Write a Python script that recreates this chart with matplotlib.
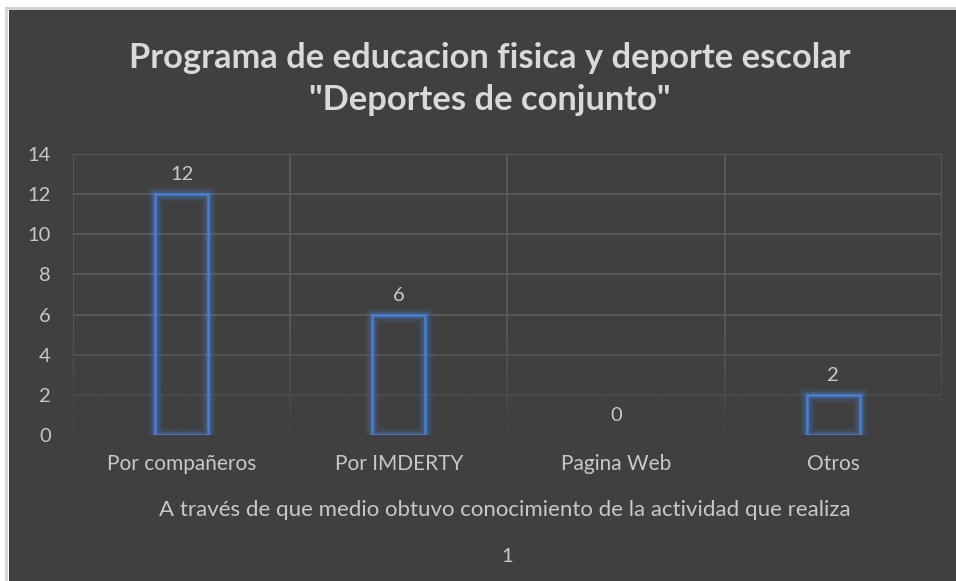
import numpy as np
import matplotlib
matplotlib.use("Agg")
import matplotlib.pyplot as plt
from matplotlib.patches import Rectangle

categories = ["Por compañeros", "Por IMDERTY", "Pagina Web", "Otros"]
values = [12, 6, 0, 2]
yticks = [0, 2, 4, 6, 8, 10, 12, 14]
title = 'Programa de educacion fisica y deporte escolar\n"Deportes de conjunto"'
xlabel = "A través de que medio obtuvo conocimiento de la actividad que realiza"
series_label = "1"

BG = "#404040"
GRID = "#5a5a5a"
TXT = "#d9d9d9"
TICK = "#c8c8c8"
BLUE = "#4a7fd6"

plt.rcParams["font.family"] = ["Lato", "DejaVu Sans"]

fig = plt.figure(figsize=(9.56, 5.81), dpi=100, facecolor="white")
# dark chart area with thin light border strip top/left
for rect, col in [((9 / 956, 0, 1, 1 - 10 / 581), BG),
                  ((5 / 956, 0, 3 / 956, 1 - 10 / 581), "#d9d9d9"),
                  ((5 / 956, 1 - 10 / 581, 1, 3 / 581), "#d0d0d0")]:
    fig.add_artist(Rectangle(rect[:2], rect[2], rect[3], transform=fig.transFigure,
                             facecolor=col, edgecolor="none", zorder=-5))

ax = fig.add_axes([73 / 956, 1 - 435 / 581, (942 - 73) / 956, (435 - 154) / 581])
ax.set_zorder(2)
ax.set_facecolor(BG)
x = np.arange(len(categories))
ax.set_xlim(-0.5, len(categories) - 0.5)
ax.set_ylim(0, 14)

# gridlines
for yv in yticks:
    ax.axhline(yv, color=GRID, lw=1.3, zorder=0.5)
for xv in np.arange(-0.5, len(categories), 1.0):
    ax.axvline(xv, color=GRID, lw=1.3, zorder=0.5)

# fade gridlines toward the bottom
rgba = np.zeros((256, 1, 4))
rgba[..., :3] = matplotlib.colors.to_rgb(BG)
ramp = np.clip(1 - np.linspace(0, 14, 256) / 5.5, 0, 1)
rgba[:, 0, 3] = ramp * 0.95
ax.imshow(rgba, extent=(-0.5, len(categories) - 0.5, 0, 14), origin="lower",
          aspect="auto", zorder=1, interpolation="bilinear")

# bars: outline with soft glow
w = 0.245
for xi, v in zip(x, values):
    if v <= 0:
        continue
    for lw, a in [(11, 0.08), (8, 0.13), (5, 0.22)]:
        ax.bar(xi, v, width=w, facecolor="none", edgecolor=BLUE, linewidth=lw,
               alpha=a, zorder=2)
    ax.bar(xi, v, width=w, facecolor="none", edgecolor=BLUE, linewidth=1.8, zorder=3)

for xi, v in zip(x, values):
    ax.text(xi, v + 0.55, str(v), ha="center", va="bottom", fontsize=14.5,
            color=TICK, zorder=4)

ax.set_yticks(yticks)
ax.set_xticks(x)
ax.set_xticklabels(categories)
ax.tick_params(axis="y", length=0, pad=16, labelsize=14.5, labelcolor=TICK)
ax.tick_params(axis="x", length=0, pad=14, labelsize=15, labelcolor=TICK)
for s in ax.spines.values():
    s.set_visible(False)

fig.text(490 / 956, 1 - 79 / 581, title, ha="center", va="center",
         fontsize=24.8, fontweight="bold", color=TXT, linespacing=1.4)
cx = 73 / 956 + (942 - 73) / 956 / 2
fig.text(505 / 956, 1 - 510 / 581, xlabel, ha="center", va="center", fontsize=16,
         color=TICK)
fig.text(cx, 1 - 557 / 581, series_label, ha="center", va="center", fontsize=14.5,
         color=TICK)

fig.savefig("out.png", dpi=100, facecolor=fig.get_facecolor())
